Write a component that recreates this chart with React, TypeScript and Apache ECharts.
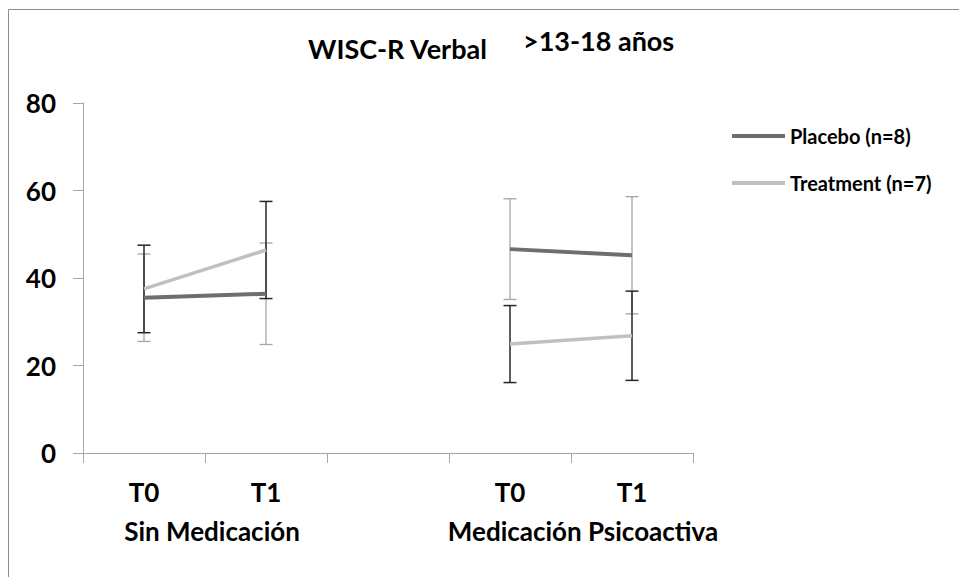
import React, { useEffect, useRef } from "react";
import * as echarts from "echarts";

// Time points on the category axis; the empty slot separates the two groups.
const categories = ["T0", "T1", "", "T0", "T1"];
const groupLabels = ["Sin Medicación", "Medicación Psicoactiva"];
const groupPositions = [1, 4];

// Mean scores and error half-widths per time point (null = gap between groups).
const placeboMean = [35.5, 36.4, null, 46.6, 45.2];
const placeboErr = [10, 11.6, null, 11.5, 13.4];
const treatmentMean = [37.5, 46.4, null, 24.9, 26.8];
const treatmentErr = [10, 11.1, null, 8.8, 10.2];

const yMin = 0;
const yMax = 80;
const yStep = 20;

const FONT = "Lato";

function errorRows(means: (number | null)[], errs: (number | null)[]) {
  const rows: number[][] = [];
  means.forEach((m, i) => {
    const e = errs[i];
    if (m != null && e != null) rows.push([i, m - e, m + e]);
  });
  return rows;
}

function errorBarRenderer(color: string, width: number) {
  return (params: any, api: any) => {
    const x = api.value(0);
    const top = api.coord([x, api.value(2)]);
    const bot = api.coord([x, api.value(1)]);
    const half = 6.5;
    const style = { stroke: color, lineWidth: width };
    return {
      type: "group",
      children: [
        { type: "line", shape: { x1: top[0], y1: top[1], x2: bot[0], y2: bot[1] }, style },
        { type: "line", shape: { x1: top[0] - half, y1: top[1], x2: top[0] + half, y2: top[1] }, style },
        { type: "line", shape: { x1: bot[0] - half, y1: bot[1], x2: bot[0] + half, y2: bot[1] }, style },
      ],
    };
  };
}

export default function App() {
  const ref = useRef<HTMLDivElement>(null);

  useEffect(() => {
    document.body.style.margin = "0";
    if (!ref.current) return;
    const chart = echarts.init(ref.current, undefined, { renderer: "svg" });

    const axisGray = "#a6a6a6";
    const labelStyle = { fontFamily: FONT, fontWeight: "bold" as const, color: "#000" };

    chart.setOption({
      animation: false,
      backgroundColor: "#fff",
      title: [
        {
          text: "WISC-R Verbal",
          left: 303,
          top: 30,
          textStyle: { ...labelStyle, fontSize: 27 },
        },
        {
          text: ">13-18 años",
          left: 518,
          top: 22,
          textStyle: { ...labelStyle, fontSize: 27 },
        },
      ],
      graphic: [
        {
          type: "rect",
          shape: { x: 8.5, y: 9.5, width: 1200, height: 1200 },
          style: { fill: "none", stroke: "#8c8c8c", lineWidth: 1 },
          silent: true,
        },
      ],
      legend: {
        data: ["Placebo (n=8)", "Treatment (n=7)"],
        orient: "vertical",
        left: 732,
        top: 125,
        padding: 0,
        icon: "rect",
        itemWidth: 53,
        itemHeight: 4,
        itemGap: 25,
        textStyle: { ...labelStyle, fontSize: 20, lineHeight: 22 },
      },
      grid: { left: 83, top: 103, width: 610, height: 350, containLabel: false },
      xAxis: [
        {
          type: "category",
          data: categories,
          boundaryGap: true,
          axisLine: { lineStyle: { color: axisGray, width: 1 } },
          axisTick: { show: true, length: 10, inside: false, lineStyle: { color: axisGray } },
          axisLabel: { ...labelStyle, fontSize: 26, margin: 26, interval: 0 },
          splitLine: { show: false },
        },
        {
          type: "value",
          position: "bottom",
          min: 0,
          max: categories.length,
          interval: 1,
          axisLine: { show: false },
          axisTick: { show: false },
          splitLine: { show: false },
          axisLabel: {
            ...labelStyle,
            fontSize: 26,
            margin: 65,
            formatter: (v: number) => {
              const k = groupPositions.indexOf(v);
              return k >= 0 ? `{g${k}|${groupLabels[k]}}` : "";
            },
            rich: {
              g0: { ...labelStyle, fontSize: 26, padding: [0, 0, 0, 14] },
              g1: { ...labelStyle, fontSize: 26, padding: [0, 0, 0, 24] },
            },
          },
        },
      ],
      yAxis: {
        type: "value",
        min: yMin,
        max: yMax,
        interval: yStep,
        axisLine: { show: true, lineStyle: { color: axisGray, width: 1 } },
        axisTick: { show: true, length: 10, inside: false, lineStyle: { color: axisGray } },
        axisLabel: { ...labelStyle, fontSize: 26, margin: 27 },
        splitLine: { show: false },
      },
      series: [
        {
          name: "placebo-err",
          type: "custom",
          xAxisIndex: 0,
          z: 1,
          renderItem: errorBarRenderer("#a6a6a6", 1.3),
          data: errorRows(placeboMean, placeboErr),
        },
        {
          name: "treatment-err",
          type: "custom",
          xAxisIndex: 0,
          z: 1,
          renderItem: errorBarRenderer("#262626", 1.5),
          data: errorRows(treatmentMean, treatmentErr),
        },
        {
          name: "Placebo (n=8)",
          type: "line",
          xAxisIndex: 0,
          z: 3,
          data: placeboMean,
          color: "#6e6e6e",
          symbol: "none",
          connectNulls: false,
          lineStyle: { color: "#6e6e6e", width: 4 },
        },
        {
          name: "Treatment (n=7)",
          type: "line",
          xAxisIndex: 0,
          z: 3,
          data: treatmentMean,
          color: "#c0c0c0",
          symbol: "none",
          connectNulls: false,
          lineStyle: { color: "#c0c0c0", width: 3.5 },
        },
      ],
    });

    return () => chart.dispose();
  }, []);

  return <div ref={ref} style={{ width: 959, height: 577 }} />;
}
